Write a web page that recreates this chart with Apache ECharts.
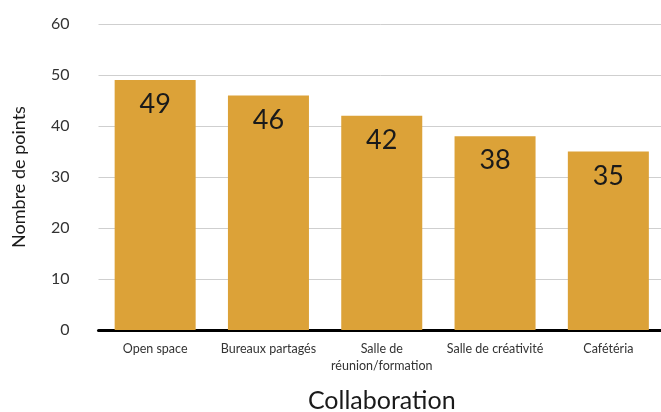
<!DOCTYPE html>
<html>
<head>
<meta charset="utf-8">
<script src="https://cdn.jsdelivr.net/npm/echarts@6/dist/echarts.min.js"></script>
<style>
  html, body { margin: 0; padding: 0; background: #fff; }
  #chart { width: 661px; height: 412px; }
</style>
</head>
<body>
<div id="chart"></div>
<script>
// Espaces de collaboration et nombre de points obtenus
const categories = ['Open space', 'Bureaux partagés', 'Salle de\nréunion/formation', 'Salle de créativité', 'Cafétéria'];
const points = [49, 46, 42, 38, 35];
const yTicks = { min: 0, max: 60, interval: 10 };

const font = 'Lato, "Noto Sans", sans-serif';
const chart = echarts.init(document.getElementById('chart'), null, { renderer: 'canvas' });

chart.setOption({
  animation: false,
  grid: { left: 98.5, right: -4, top: 24, bottom: 82, outerBoundsMode: 'none', containLabel: false },
  xAxis: {
    type: 'category',
    data: categories,
    name: 'Collaboration',
    nameLocation: 'middle',
    nameGap: 58,
    nameTextStyle: { fontFamily: font, fontSize: 25, color: '#1a1a1a' },
    axisLine: { show: true, lineStyle: { color: '#000', width: 3 } },
    axisTick: { show: false },
    axisLabel: { fontFamily: font, fontSize: 12.5, color: '#333', margin: 10, lineHeight: 17, interval: 0 }
  },
  yAxis: {
    type: 'value',
    min: yTicks.min,
    max: yTicks.max,
    interval: yTicks.interval,
    name: 'Nombre de points',
    nameLocation: 'middle',
    nameGap: 70,
    nameRotate: 90,
    nameTextStyle: { fontFamily: font, fontSize: 18, color: '#1a1a1a' },
    axisLine: { show: false },
    axisTick: { show: false },
    axisLabel: { fontFamily: font, fontSize: 16, color: '#333', margin: 29 },
    splitLine: { lineStyle: { color: '#cfcfcf', width: 1 } }
  },
  series: [{
    type: 'bar',
    data: points,
    barCategoryGap: '28.5%',
    itemStyle: { color: '#DCA238' },
    label: {
      show: true,
      position: 'insideTop',
      distance: 11,
      fontFamily: font,
      fontSize: 27,
      color: '#1a1a1a'
    }
  }]
});
</script>
</body>
</html>
